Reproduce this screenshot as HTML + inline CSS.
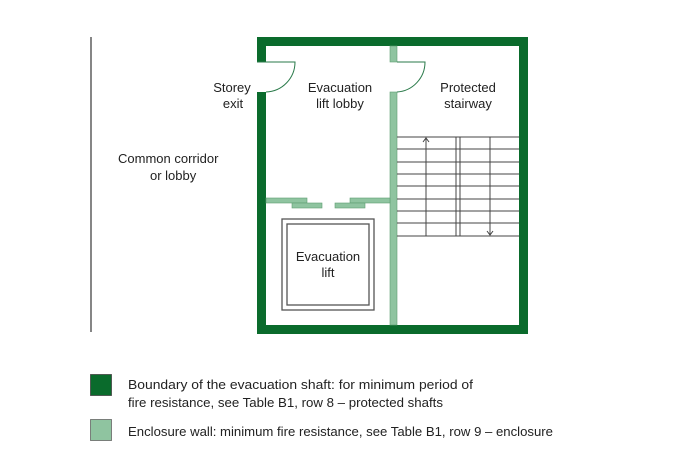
<!DOCTYPE html>
<html><head><meta charset="utf-8"><style>html,body{margin:0;padding:0;background:#fff}svg{display:block}</style></head><body>
<svg width="697" height="454" viewBox="0 0 697 454" xmlns="http://www.w3.org/2000/svg" font-family="Liberation Sans, sans-serif" font-size="12.5" fill="#222">
<rect width="697" height="454" fill="#fff"/>
<line x1="91" y1="37" x2="91" y2="332" stroke="#444" stroke-width="1.3"/>
<!-- outer shaft -->
<path d="M257,62 V37 H528 V334 H257 V92 H266 V325 H519 V46 H266 V62 Z" fill="#0a6b2c"/>
<!-- light wall vertical -->
<rect x="390" y="46" width="7" height="16" fill="#8fc4a0" stroke="#5f9e72" stroke-width="0.6"/>
<rect x="390" y="92" width="7" height="233" fill="#8fc4a0" stroke="#5f9e72" stroke-width="0.6"/>
<!-- lobby wall -->
<g fill="#8fc4a0" stroke="#5f9e72" stroke-width="0.6">
<rect x="266" y="198" width="41" height="5"/>
<rect x="292" y="203" width="30" height="5"/>
<rect x="350" y="198" width="40" height="5"/>
<rect x="335" y="203" width="30" height="5"/>
</g>
<!-- doors -->
<g fill="none" stroke="#2a7a4a" stroke-width="1">
<path d="M257,62 H295 A30,30 0 0 1 266,92"/>
<path d="M397,62 H425 A30,30 0 0 1 397,92"/>
</g>
<!-- lift -->
<rect x="282" y="219" width="92" height="91" fill="none" stroke="#555" stroke-width="1.3"/>
<rect x="287" y="224" width="82" height="81" fill="none" stroke="#555" stroke-width="1.3"/>
<!-- stairs -->
<g stroke="#444" stroke-width="1" fill="none">
<path d="M397,137H519M397,149H519M397,162H519M397,174H519M397,186H519M397,199H519M397,211H519M397,223H519M397,236H519"/>
<path d="M456,137V236M460,137V236"/>
<path d="M426,236V138M423,142L426,138L429,142"/>
<path d="M490,137V235M487,231L490,235L493,231"/>
</g>
<!-- labels -->
<g font-size="13" text-anchor="middle">
<text x="232" y="92">Storey</text><text x="233" y="108">exit</text>
<text x="340" y="92">Evacuation</text><text x="340" y="108">lift lobby</text>
<text x="468" y="92">Protected</text><text x="468" y="108">stairway</text>
<text x="328" y="261">Evacuation</text><text x="328" y="277">lift</text>
</g>
<text x="118" y="163" font-size="13">Common corridor</text>
<text x="150" y="180" font-size="13">or lobby</text>
<!-- legend -->
<rect x="90.5" y="374.5" width="21" height="21" fill="#0a6b2c" stroke="#444" stroke-width="0.8"/>
<rect x="90.5" y="419.5" width="21" height="21" fill="#8fc4a0" stroke="#666" stroke-width="0.8"/>
<text x="128" y="389" textLength="345" lengthAdjust="spacingAndGlyphs">Boundary of the evacuation shaft: for minimum period of</text>
<text x="128" y="407" textLength="315" lengthAdjust="spacingAndGlyphs">fire resistance, see Table B1, row 8 – protected shafts</text>
<text x="128" y="436" textLength="425" lengthAdjust="spacingAndGlyphs">Enclosure wall: minimum fire resistance, see Table B1, row 9 – enclosure</text>
</svg>
</body></html>
